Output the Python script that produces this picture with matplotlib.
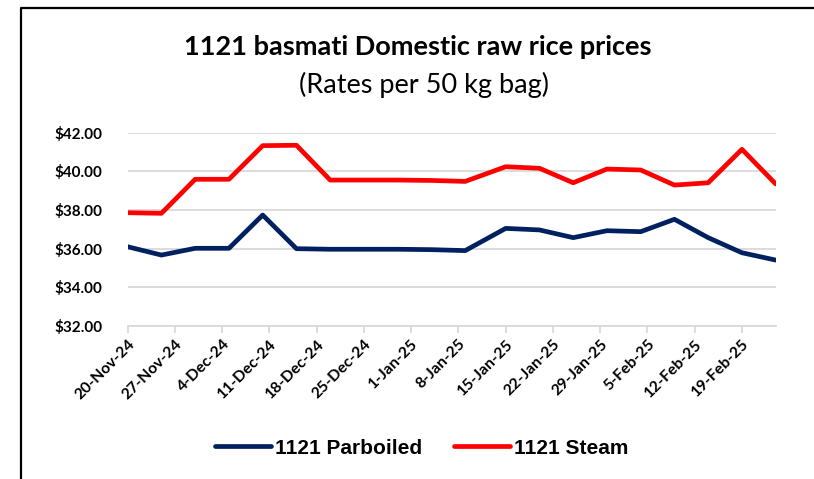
import matplotlib
matplotlib.use("Agg")
import matplotlib.pyplot as plt
from matplotlib.lines import Line2D
import pandas as pd

dates = ["2024-11-20", "2024-11-25", "2024-11-30", "2024-12-05", "2024-12-10",
         "2024-12-15", "2024-12-20", "2024-12-25", "2024-12-30", "2025-01-04",
         "2025-01-09", "2025-01-15", "2025-01-20", "2025-01-25", "2025-01-30",
         "2025-02-04", "2025-02-09", "2025-02-14", "2025-02-19", "2025-02-24"]
parboiled = [36.10, 35.67, 36.02, 36.02, 37.74, 36.00, 35.97, 35.97, 35.97, 35.95,
             35.90, 37.05, 36.97, 36.57, 36.93, 36.88, 37.52, 36.57, 35.79, 35.41]
steam = [37.86, 37.83, 39.59, 39.59, 41.33, 41.35, 39.55, 39.55, 39.55, 39.53,
         39.48, 40.24, 40.16, 39.41, 40.12, 40.07, 39.29, 39.41, 41.14, 39.35]
tick_dates = ["2024-11-20", "2024-11-27", "2024-12-04", "2024-12-11", "2024-12-18",
              "2024-12-25", "2025-01-01", "2025-01-08", "2025-01-15", "2025-01-22",
              "2025-01-29", "2025-02-05", "2025-02-12", "2025-02-19"]
yticks = [32, 34, 36, 38, 40, 42]

x = pd.to_datetime(dates)
xt = pd.to_datetime(tick_dates)

fig = plt.figure(figsize=(8.14, 4.79), dpi=100)
ax = fig.add_axes([127.7/814, 1-326/479, (775.7-127.7)/814, (326-132.7)/479])

blue = "#002060"
red = "#FF0000"
ax.plot(x, parboiled, color=blue, lw=3.4, solid_capstyle="round", solid_joinstyle="round",
        label="1121 Parboiled", zorder=3)
ax.plot(x, steam, color=red, lw=3.4, solid_capstyle="round", solid_joinstyle="round",
        label="1121 Steam", zorder=3)

ax.set_ylim(32, 42)
ax.set_yticks(yticks)
ax.set_yticklabels([f"${v:.2f}" for v in yticks])
ax.set_xlim(pd.Timestamp("2024-11-20"), pd.Timestamp("2025-02-24"))
ax.set_xticks(xt)
ax.set_xticklabels([f"{d.day}-{d.strftime('%b-%y')}" for d in xt], rotation=45,
                   ha="right", rotation_mode="anchor")

ax.grid(axis="y", color="#d9d9d9", lw=1.3, zorder=0)
for s in ["left", "right", "top"]:
    ax.spines[s].set_visible(False)
ax.spines["bottom"].set_color("#d9d9d9")
ax.spines["bottom"].set_linewidth(1.3)
ax.tick_params(axis="y", length=0, pad=18)
ax.tick_params(axis="x", length=5, color="#d9d9d9", width=1.3, pad=3)
for lab in ax.get_xticklabels():
    lab.set_fontfamily("Lato")
    lab.set_fontweight("bold")
    lab.set_fontsize(11.3)
for lab in ax.get_yticklabels():
    lab.set_fontfamily("Lato")
    lab.set_fontweight("bold")
    lab.set_fontsize(11)

fig.text(418/814, 1-47/479, "1121 basmati Domestic raw rice prices", ha="center", va="center",
         fontsize=19.5, fontweight="bold", fontfamily="Lato")
fig.text(424/814, 1-85/479, "(Rates per 50 kg bag)", ha="center", va="center",
         fontsize=19.5, fontfamily="Lato")

leg = fig.legend(loc="center", bbox_to_anchor=(421.5/814, 1-448/479), ncol=2, frameon=False,
                 prop={"family": "Liberation Sans", "weight": "bold", "size": 15},
                 handlelength=2.7, handletextpad=0.2, columnspacing=1.5)

fig.add_artist(Line2D([20.5/814, 20.5/814, 1.0], [0, 1-8/479, 1-8/479],
                      transform=fig.transFigure, color="black", lw=1.6))

fig.savefig("out.png", dpi=100)
